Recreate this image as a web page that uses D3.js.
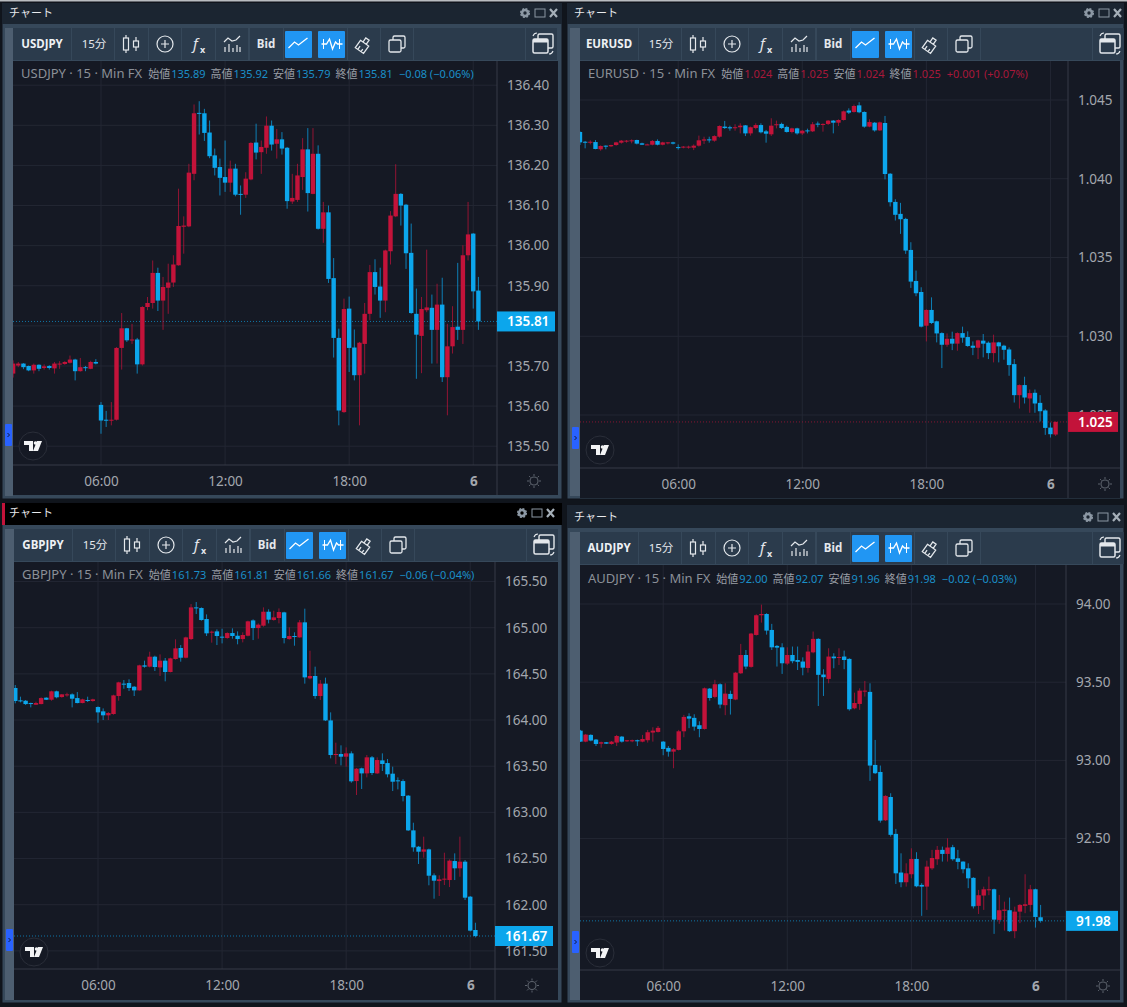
<!DOCTYPE html>
<html>
<head>
<meta charset="utf-8">
<style>
html, body { margin: 0; padding: 0; background: #10151c; overflow: hidden; }
svg { display: block; }
text { font-family: "Noto Sans", "Noto Sans CJK JP", sans-serif; }
</style>
<script src="https://cdn.jsdelivr.net/npm/d3@7"></script>
</head>
<body>
<svg id="chart" width="1127" height="1007"></svg>
<script>
// candle rows are open, high, low, close. the first row is index candleStart, 06:00 is index 0
var timeTicks = [0, 24, 48, 72];
var timeLabels = ['06:00', '12:00', '18:00', '6'];

var usdjpyTicks = [136.4, 136.3, 136.2, 136.1, 136.0, 135.9, 135.8, 135.7, 135.6, 135.5];
var eurusdTicks = [1.045, 1.04, 1.035, 1.03, 1.025];
var gbpjpyTicks = [165.5, 165, 164.5, 164, 163.5, 163, 162.5, 162, 161.5];
var audjpyTicks = [94, 93.5, 93, 92.5, 92];

var usdjpyLegend = ['135.89', '135.92', '135.79', '135.81', '−0.08 (−0.06%)'];
var eurusdLegend = ['1.024', '1.025', '1.024', '1.025', '+0.001 (+0.07%)'];
var gbpjpyLegend = ['161.73', '161.81', '161.66', '161.67', '−0.06 (−0.04%)'];
var audjpyLegend = ['92.00', '92.07', '91.96', '91.98', '−0.02 (−0.03%)'];

var usdjpy = [
  [135.681,135.714,135.671,135.706],[135.701,135.710,135.697,135.706],[135.706,135.707,135.692,135.697],
  [135.700,135.701,135.687,135.689],[135.689,135.706,135.681,135.703],[135.703,135.704,135.687,135.693],
  [135.695,135.704,135.691,135.699],[135.700,135.702,135.691,135.695],[135.694,135.710,135.681,135.706],
  [135.704,135.712,135.693,135.706],[135.705,135.712,135.703,135.710],[135.708,135.726,135.706,135.716],
  [135.716,135.718,135.664,135.687],[135.687,135.720,135.686,135.697],[135.697,135.700,135.687,135.695],
  [135.693,135.713,135.692,135.710],[135.710,135.717,135.704,135.706],
  [135.603,135.610,135.531,135.564],[135.566,135.588,135.548,135.564],[135.564,135.610,135.552,135.566],
  [135.566,135.747,135.564,135.745],[135.745,135.832,135.691,135.794],[135.794,135.795,135.760,135.764],
  [135.764,135.805,135.755,135.766],[135.766,135.770,135.681,135.704],[135.704,135.849,135.701,135.847],
  [135.847,135.872,135.839,135.857],[135.857,135.963,135.843,135.932],[135.932,135.945,135.837,135.863],
  [135.863,135.922,135.790,135.897],[135.895,135.955,135.830,135.908],[135.908,135.976,135.897,135.953],
  [135.951,136.142,135.950,136.049],[136.047,136.073,135.980,136.050],[136.048,136.204,136.046,136.182],
  [136.179,136.352,136.163,136.330],[136.331,136.360,136.277,136.329],[136.330,136.341,136.261,136.281],
  [136.282,136.312,136.218,136.223],[136.225,136.242,136.175,136.194],[136.196,136.217,136.125,136.169],
  [136.171,136.262,136.134,136.157],[136.157,136.212,136.134,136.192],[136.192,136.204,136.123,136.127],
  [136.129,136.150,136.077,136.127],[136.127,136.183,136.119,136.167],[136.165,136.258,136.163,136.256],
  [136.257,136.304,136.215,136.232],[136.233,136.262,136.179,136.246],[136.244,136.322,136.229,136.299],
  [136.299,136.312,136.237,136.252],[136.254,136.291,136.217,136.265],[136.265,136.283,136.227,136.242],
  [136.244,136.246,136.092,136.111],[136.110,136.179,136.104,136.119],[136.114,136.204,136.109,136.175],
  [136.171,136.268,136.139,136.240],[136.240,136.293,136.085,136.131],[136.129,136.293,136.128,136.229],
  [136.229,136.250,136.040,136.042],[136.042,136.109,136.007,136.083],[136.083,136.100,135.907,135.917],
  [135.919,135.969,135.721,135.770],[135.770,135.793,135.552,135.589],[135.585,135.868,135.583,135.842],
  [135.843,135.873,135.685,135.745],[135.746,135.791,135.664,135.677],[135.677,135.760,135.552,135.758],
  [135.755,135.857,135.681,135.830],[135.830,135.952,135.814,135.934],[135.934,135.966,135.878,135.897],
  [135.898,135.945,135.820,135.863],[135.863,135.990,135.834,135.988],[135.986,136.086,135.953,136.075],
  [136.073,136.203,136.071,136.129],[136.129,136.131,136.050,136.100],[136.102,136.104,135.942,135.981],
  [135.982,136.055,135.830,135.832],[135.830,135.893,135.668,135.778],[135.775,135.872,135.682,135.842],
  [135.839,135.990,135.834,135.846],[135.845,135.878,135.706,135.790],[135.790,135.905,135.706,135.853],
  [135.853,135.920,135.660,135.672],[135.672,135.805,135.577,135.749],[135.749,135.849,135.731,135.797],
  [135.798,135.957,135.765,135.790],[135.790,136.001,135.755,135.976],[135.976,136.109,135.963,136.028],
  [136.030,136.031,135.843,135.886],[135.888,135.922,135.790,135.811]
];

var eurusd = [
  [1.04297,1.04301,1.04214,1.04231],[1.04235,1.04240,1.04193,1.04231],[1.04229,1.04244,1.04218,1.04235],
  [1.04233,1.04246,1.04187,1.04189],[1.04187,1.04212,1.04178,1.04208],[1.04210,1.04212,1.04187,1.04204],
  [1.04206,1.04216,1.04201,1.04214],[1.04214,1.04235,1.04210,1.04231],[1.04229,1.04246,1.04223,1.04242],
  [1.04238,1.04246,1.04229,1.04242],[1.04240,1.04250,1.04225,1.04244],[1.04246,1.04248,1.04218,1.04223],
  [1.04225,1.04229,1.04214,1.04216],[1.04216,1.04223,1.04214,1.04218],[1.04216,1.04246,1.04212,1.04240],
  [1.04240,1.04250,1.04212,1.04216],[1.04216,1.04235,1.04212,1.04231],[1.04227,1.04233,1.04218,1.04231],
  [1.04231,1.04235,1.04218,1.04223],
  [1.04201,1.04218,1.04185,1.04197],[1.04199,1.04208,1.04193,1.04204],[1.04199,1.04210,1.04191,1.04204],
  [1.04197,1.04218,1.04182,1.04210],[1.04210,1.04274,1.04204,1.04244],[1.04242,1.04267,1.04221,1.04250],
  [1.04250,1.04267,1.04229,1.04246],[1.04242,1.04276,1.04235,1.04271],[1.04267,1.04339,1.04261,1.04335],
  [1.04331,1.04367,1.04316,1.04322],[1.04327,1.04337,1.04305,1.04320],[1.04322,1.04346,1.04305,1.04327],
  [1.04327,1.04352,1.04288,1.04337],[1.04339,1.04341,1.04271,1.04288],[1.04288,1.04331,1.04274,1.04327],
  [1.04322,1.04352,1.04314,1.04341],[1.04341,1.04352,1.04288,1.04295],[1.04301,1.04310,1.04229,1.04286],
  [1.04282,1.04384,1.04271,1.04337],[1.04341,1.04369,1.04320,1.04346],[1.04348,1.04356,1.04316,1.04322],
  [1.04329,1.04337,1.04293,1.04297],[1.04297,1.04324,1.04288,1.04320],[1.04320,1.04324,1.04280,1.04288],
  [1.04288,1.04310,1.04278,1.04305],[1.04307,1.04318,1.04288,1.04303],[1.04301,1.04360,1.04297,1.04346],
  [1.04350,1.04363,1.04327,1.04344],[1.04344,1.04352,1.04299,1.04348],[1.04348,1.04373,1.04341,1.04369],
  [1.04369,1.04373,1.04288,1.04356],[1.04356,1.04377,1.04335,1.04373],[1.04373,1.04433,1.04369,1.04428],
  [1.04433,1.04447,1.04411,1.04420],[1.04424,1.04471,1.04420,1.04462],[1.04466,1.04486,1.04416,1.04422],
  [1.04424,1.04428,1.04324,1.04331],[1.04331,1.04377,1.04327,1.04360],[1.04356,1.04360,1.04299,1.04307],
  [1.04307,1.04363,1.04303,1.04358],[1.04354,1.04399,1.03996,1.04030],[1.04032,1.04036,1.03824,1.03851],
  [1.03853,1.03870,1.03735,1.03771],[1.03777,1.03847,1.03650,1.03743],[1.03745,1.03752,1.03523,1.03544],
  [1.03548,1.03597,1.03307,1.03347],[1.03351,1.03417,1.03254,1.03273],[1.03281,1.03311,1.03056,1.03061],
  [1.03067,1.03171,1.02967,1.03167],[1.03167,1.03247,1.03078,1.03084],[1.03095,1.03099,1.02961,1.03018],
  [1.03020,1.03025,1.02798,1.02946],[1.02946,1.03018,1.02933,1.02984],[1.02984,1.03029,1.02912,1.02953],
  [1.02953,1.03025,1.02908,1.03020],[1.03020,1.03061,1.02959,1.02991],[1.02995,1.03031,1.02933,1.02938],
  [1.02940,1.02967,1.02880,1.02927],[1.02927,1.02978,1.02855,1.02974],[1.02972,1.03014,1.02866,1.02953],
  [1.02959,1.02967,1.02855,1.02893],[1.02893,1.03010,1.02834,1.02961],[1.02961,1.02965,1.02834,1.02936],
  [1.02940,1.02946,1.02851,1.02914],[1.02916,1.02929,1.02749,1.02817],[1.02823,1.02855,1.02579,1.02626],
  [1.02626,1.02694,1.02541,1.02690],[1.02690,1.02743,1.02573,1.02611],[1.02605,1.02662,1.02514,1.02639],
  [1.02641,1.02662,1.02514,1.02573],[1.02577,1.02626,1.02459,1.02524],[1.02529,1.02537,1.02374,1.02418],
  [1.02420,1.02452,1.02357,1.02378],[1.02376,1.02459,1.02367,1.02456]
];

var gbpjpy = [
  [164.347,164.379,164.181,164.206],[164.213,164.253,164.191,164.202],[164.209,164.217,164.163,164.173],
  [164.184,164.188,164.137,164.173],[164.166,164.199,164.163,164.184],[164.173,164.246,164.170,164.238],
  [164.242,164.246,164.217,164.220],[164.220,164.318,164.209,164.311],[164.311,164.318,164.235,164.246],
  [164.249,164.282,164.242,164.278],[164.267,164.296,164.253,164.278],[164.278,164.289,164.137,164.231],
  [164.238,164.303,164.181,164.184],[164.184,164.231,164.181,164.224],[164.217,164.253,164.195,164.206],
  [164.206,164.231,164.199,164.224],
  [164.141,164.148,163.971,164.083],[164.094,164.126,164.000,164.051],[164.051,164.087,164.000,164.076],
  [164.065,164.274,164.058,164.267],[164.260,164.415,164.209,164.408],[164.394,164.433,164.339,164.383],
  [164.401,164.441,164.314,164.347],[164.361,164.368,164.260,164.321],[164.321,164.599,164.318,164.592],
  [164.592,164.643,164.567,164.578],[164.578,164.740,164.570,164.686],[164.686,164.697,164.531,164.574],
  [164.570,164.711,164.477,164.643],[164.643,164.672,164.419,164.520],[164.520,164.675,164.516,164.668],
  [164.661,164.874,164.654,164.776],[164.780,164.812,164.632,164.675],[164.675,164.903,164.668,164.895],
  [164.877,165.256,164.866,165.220],[165.220,165.278,165.148,165.213],[165.213,165.220,165.076,165.083],
  [165.094,165.144,164.910,164.939],[164.950,164.968,164.838,164.957],[164.960,164.982,164.812,164.910],
  [164.903,164.989,164.830,164.892],[164.888,164.950,164.881,164.942],[164.942,164.993,164.881,164.910],
  [164.913,164.960,164.820,164.877],[164.877,164.950,164.841,164.921],[164.913,165.076,164.906,165.069],
  [165.079,165.090,164.866,164.996],[164.996,165.047,164.881,165.033],[165.022,165.220,165.011,165.173],
  [165.173,165.199,165.047,165.087],[165.083,165.184,165.076,165.112],[165.105,165.209,165.047,165.170],
  [165.166,165.173,164.830,164.888],[164.877,165.004,164.870,164.910],[164.910,164.950,164.805,164.899],
  [164.895,165.083,164.892,165.058],[165.058,165.206,164.394,164.462],[164.451,164.751,164.441,164.477],
  [164.477,164.578,164.231,164.260],[164.260,164.433,164.217,164.394],[164.394,164.459,163.989,163.996],
  [163.996,164.083,163.585,163.621],[163.621,163.755,163.524,163.632],[163.632,163.726,163.509,163.603],
  [163.603,163.704,163.495,163.639],[163.639,163.661,163.321,163.336],[163.339,163.480,163.188,163.473],
  [163.477,163.484,163.253,163.422],[163.422,163.621,163.379,163.596],[163.596,163.610,163.404,163.426],
  [163.422,163.596,163.415,163.567],[163.563,163.639,163.448,163.524],[163.534,163.578,163.379,163.412],
  [163.419,163.495,163.231,163.332],[163.347,163.379,163.249,163.336],[163.339,163.358,163.119,163.177],
  [163.181,163.188,162.798,162.805],[162.805,162.888,162.574,162.621],[162.628,162.636,162.441,162.574],
  [162.574,162.737,162.509,162.599],[162.599,162.607,162.210,162.314],[162.318,162.339,162.065,162.260],
  [162.256,162.318,162.094,162.275],[162.271,162.563,162.213,162.282],[162.267,162.491,162.191,162.477],
  [162.473,162.556,162.267,162.394],[162.394,162.737,162.303,162.466],[162.466,162.484,162.051,162.076],
  [162.087,162.094,161.711,161.719],[161.726,161.805,161.646,161.661]
];

var audjpy = [
  [93.190,93.195,93.118,93.120],[93.120,93.169,93.116,93.165],[93.163,93.167,93.122,93.127],
  [93.133,93.137,93.092,93.105],[93.107,93.120,93.081,93.116],[93.116,93.118,93.105,93.107],
  [93.105,93.124,93.101,93.120],[93.114,93.163,93.092,93.156],[93.152,93.156,93.114,93.120],
  [93.122,93.131,93.118,93.129],[93.122,93.133,93.116,93.129],[93.129,93.133,93.092,93.122],
  [93.120,93.163,93.116,93.137],[93.129,93.195,93.114,93.180],[93.178,93.212,93.120,93.190],
  [93.182,93.220,93.178,93.208],
  [93.120,93.124,93.033,93.073],[93.080,93.092,93.024,93.056],[93.056,93.078,92.950,93.071],
  [93.067,93.195,93.063,93.186],[93.186,93.291,93.148,93.278],[93.282,93.301,93.206,93.267],
  [93.272,93.295,93.190,93.216],[93.225,93.250,93.148,93.201],[93.201,93.466,93.197,93.461],
  [93.459,93.463,93.382,93.399],[93.406,93.515,93.397,93.487],[93.487,93.493,93.333,93.357],
  [93.353,93.493,93.289,93.427],[93.425,93.446,93.293,93.393],[93.389,93.566,93.385,93.561],
  [93.557,93.745,93.553,93.674],[93.674,93.706,93.583,93.600],[93.598,93.815,93.593,93.811],
  [93.802,93.934,93.798,93.928],[93.928,93.996,93.881,93.936],[93.936,93.941,93.804,93.830],
  [93.834,93.873,93.706,93.723],[93.732,93.738,93.600,93.721],[93.723,93.749,93.553,93.621],
  [93.619,93.723,93.610,93.674],[93.674,93.728,93.621,93.634],[93.642,93.728,93.578,93.630],
  [93.632,93.659,93.544,93.593],[93.591,93.738,93.561,93.696],[93.691,93.824,93.685,93.777],
  [93.777,93.781,93.348,93.547],[93.549,93.583,93.412,93.532],[93.521,93.717,93.493,93.664],
  [93.664,93.685,93.589,93.653],[93.655,93.717,93.610,93.661],[93.664,93.702,93.583,93.642],
  [93.649,93.653,93.318,93.327],[93.333,93.433,93.327,93.367],[93.361,93.461,93.323,93.446],
  [93.440,93.508,93.408,93.446],[93.438,93.493,92.869,92.967],[92.971,93.131,92.913,92.918],
  [92.926,92.967,92.602,92.615],[92.617,92.777,92.613,92.773],[92.766,92.790,92.513,92.524],
  [92.530,92.562,92.210,92.278],[92.283,92.406,92.189,92.221],[92.221,92.342,92.193,92.278],
  [92.272,92.438,92.246,92.370],[92.370,92.413,92.189,92.195],[92.204,92.215,92.006,92.193],
  [92.193,92.359,92.044,92.321],[92.310,92.428,92.300,92.376],[92.368,92.453,92.332,92.428],
  [92.428,92.449,92.353,92.402],[92.402,92.502,92.353,92.443],[92.445,92.460,92.359,92.368],
  [92.374,92.428,92.304,92.351],[92.353,92.355,92.278,92.304],[92.310,92.342,92.183,92.246],
  [92.249,92.253,92.053,92.067],[92.070,92.172,92.018,92.138],[92.136,92.193,92.044,92.176],
  [92.172,92.257,92.138,92.176],[92.176,92.180,91.891,91.982],[91.980,92.140,91.955,92.042],
  [92.038,92.097,91.912,92.046],[92.042,92.123,91.903,91.908],[91.908,92.065,91.863,92.033],
  [92.033,92.082,91.959,92.076],[92.070,92.272,92.023,92.080],[92.076,92.204,92.033,92.176],
  [92.176,92.180,91.931,91.999],[91.997,92.076,91.963,91.974]
];

var UP = '#c3133a', DOWN = '#0ca6ec';
var svg = d3.select('#chart');
svg.append('rect').attr('width', 1127).attr('height', 1.5).attr('fill', '#b9bcc0');

// window frames, plot rects and price anchors, one per panel
var panels = [
  { symbol: 'USDJPY', legend: usdjpyLegend, candles: usdjpy, candleStart: -17, ticks: usdjpyTicks, fmt: '.2f',
    win: [2, 3, 560, 496], plot: [13, 61, 497, 465], axisBottom: 495, zero: 101, p: [136.3, 135.5], py: [125.3, 446.2], title: 13,
    legendY: 77.5, icons: 525, handle: 424, logo: [33, 446] },
  { symbol: 'EURUSD', legend: eurusdLegend, candles: eurusd, candleStart: -19, ticks: eurusdTicks, fmt: '.3f',
    win: [567, 3, 557, 496], plot: [580, 61, 1068, 468], axisBottom: 498, zero: 678.2, p: [1.045, 1.025], py: [100, 415], title: 13,
    legendY: 77.5, icons: 1089, handle: 427, logo: [600, 450], red: true },
  { symbol: 'GBPJPY', legend: gbpjpyLegend, candles: gbpjpy, candleStart: -16, ticks: gbpjpyTicks, fmt: '.2f',
    win: [2, 503, 560, 500], plot: [14, 562, 495, 969], axisBottom: 1000, zero: 98, p: [165, 162], py: [627.7, 904.7], title: 513,
    legendY: 578.5, icons: 522, handle: 929, logo: [34, 952], active: true },
  { symbol: 'AUDJPY', legend: audjpyLegend, candles: audjpy, candleStart: -16, ticks: audjpyTicks, fmt: '.2f',
    win: [567, 505, 557, 498], plot: [580, 565, 1066, 970], axisBottom: 1000, zero: 663.2, p: [94, 92], py: [604, 916.8], title: 517,
    legendY: 583, icons: 1088, handle: 931, logo: [600, 953] }
];

var toolButtons = [[0, 58], [59, 101], [102, 135], [136, 168], [169, 202], [203, 235], [237, 270], [271, 304], [304, 334], [335, 367], [368, 400], [401, 512], [513, 544]];

function stroke(g, d, w, col) {
  return g.append('path').attr('d', d).attr('fill', 'none').attr('stroke', col || '#e4e8ec').attr('stroke-width', w || 1.2);
}

function drawToolbar(g, p) {
  var left = p.plot[0], top = p.plot[1] - 33, h = 32;
  toolButtons.forEach(function (b) {
    g.append('rect').attr('x', left + b[0]).attr('y', top).attr('width', b[1] - b[0]).attr('height', h).attr('fill', '#2b3b4c');
  });
  var mid = top + h / 2;
  g.append('text').attr('x', left + 29).attr('y', mid + 4).attr('text-anchor', 'middle').attr('font-size', 11.5).attr('font-weight', 700).attr('fill', '#eef1f4').text(p.symbol);
  g.append('text').attr('x', left + 81).attr('y', mid + 4).attr('text-anchor', 'middle').attr('font-size', 11.5).attr('fill', '#e4e8ec').text('15分');
  g.append('text').attr('x', left + 253).attr('y', mid + 4).attr('text-anchor', 'middle').attr('font-size', 11.5).attr('font-weight', 700).attr('fill', '#e4e8ec').text('Bid');

  // candle icon
  var cx = left + 118;
  stroke(g, 'M' + (cx - 5) + ' ' + (mid - 9) + 'v18M' + (cx + 5) + ' ' + (mid - 7) + 'v14');
  g.append('rect').attr('x', cx - 7.5).attr('y', mid - 6).attr('width', 5).attr('height', 12).attr('fill', '#2b3b4c').attr('stroke', '#e4e8ec').attr('stroke-width', 1.2);
  g.append('rect').attr('x', cx + 2.5).attr('y', mid - 3).attr('width', 5).attr('height', 6).attr('fill', '#2b3b4c').attr('stroke', '#e4e8ec').attr('stroke-width', 1.2);

  // plus in a circle
  var px = left + 152;
  g.append('circle').attr('cx', px).attr('cy', mid).attr('r', 8).attr('fill', 'none').attr('stroke', '#e4e8ec').attr('stroke-width', 1.2);
  stroke(g, 'M' + (px - 4) + ' ' + mid + 'h8M' + px + ' ' + (mid - 4) + 'v8');

  // fx
  g.append('text').attr('x', left + 180).attr('y', mid + 5).attr('font-size', 15).attr('font-style', 'italic').attr('fill', '#e4e8ec').attr('font-family', 'Liberation Serif').text('f');
  g.append('text').attr('x', left + 187).attr('y', mid + 9).attr('font-size', 9).attr('font-weight', 700).attr('fill', '#e4e8ec').text('x');

  // indicators icon
  var ix = left + 219;
  stroke(g, 'M' + (ix - 8) + ' ' + (mid - 2) + 'l4 -4l4 3l4 -1l4 -4');
  stroke(g, 'M' + (ix - 7) + ' ' + (mid + 8) + 'v-5M' + (ix - 3) + ' ' + (mid + 8) + 'v-8M' + (ix + 1) + ' ' + (mid + 8) + 'v-4M' + (ix + 5) + ' ' + (mid + 8) + 'v-7M' + (ix + 8) + ' ' + (mid + 8) + 'v-5');

  // two active blue buttons
  [272, 305].forEach(function (off, n) {
    g.append('rect').attr('x', left + off).attr('y', top + 3).attr('width', 27).attr('height', h - 5).attr('rx', 1).attr('fill', '#2196f3');
    var bx = left + off + 13.5, d = n === 0
      ? 'M' + (bx - 10) + ' ' + (mid + 4) + 'l6 -6l4 3l9 -7'
      : 'M' + (bx - 10) + ' ' + mid + 'h5l3 -5l3 10l3 -7l2 2h5';
    stroke(g, d, 1.3, '#ffffff');
    if (n === 1) stroke(g, 'M' + (bx - 8) + ' ' + (mid - 5) + 'v10M' + (bx + 8) + ' ' + (mid - 5) + 'v10', 1, '#ffffff');
  });

  // brush
  var br = left + 351;
  g.append('g').attr('transform', 'translate(' + br + ',' + mid + ') rotate(35)').call(function (s) {
    stroke(s, 'M-5 -1h10v9h-10zM-2 -1v-5h4v5M-2 8v-4M2 8v-3', 1.3);
  });

  // copy icon
  var co = left + 384;
  g.append('rect').attr('x', co - 4).attr('y', mid - 8).attr('width', 12).attr('height', 12).attr('rx', 1.5).attr('fill', 'none').attr('stroke', '#e4e8ec').attr('stroke-width', 1.3);
  g.append('rect').attr('x', co - 8).attr('y', mid - 4).attr('width', 12).attr('height', 12).attr('rx', 1.5).attr('fill', '#2b3b4c').attr('stroke', '#e4e8ec').attr('stroke-width', 1.3);

  // layout icon on the right
  var la = left + 530;
  g.append('rect').attr('x', la - 5).attr('y', mid - 10).attr('width', 15).attr('height', 14).attr('rx', 1.5).attr('fill', 'none').attr('stroke', '#e4e8ec').attr('stroke-width', 1.4);
  g.append('rect').attr('x', la - 10).attr('y', mid - 5).attr('width', 15).attr('height', 14).attr('rx', 1.5).attr('fill', '#2b3b4c').attr('stroke', '#e4e8ec').attr('stroke-width', 1.5);
  g.append('rect').attr('x', la - 10).attr('y', mid - 5).attr('width', 15).attr('height', 3.5).attr('fill', '#e4e8ec');
  stroke(g, 'M' + (la - 10) + ' ' + (mid - 8) + 'q1 -3 4 -3M' + (la + 10) + ' ' + (mid + 7) + 'q-1 3 -4 3', 1.1);
}

function drawPanel(p, idx) {
  var g = svg.append('g');
  var left = p.plot[0], top = p.plot[1], right = p.plot[2], bottom = p.plot[3];
  var winRight = p.win[0] + p.win[2], winBottom = p.win[1] + p.win[3];

  g.append('rect').attr('x', p.win[0]).attr('y', p.win[1]).attr('width', p.win[2]).attr('height', p.win[3]).attr('fill', '#36485a').attr('stroke', '#10151c').attr('stroke-width', 1);
  g.append('rect').attr('x', p.win[0]).attr('y', p.win[1]).attr('width', p.win[2]).attr('height', p.plot[1] - p.win[1] - 38 + 1).attr('fill', p.active ? '#000000' : '#1b2531');
  if (p.active) g.append('rect').attr('x', p.win[0]).attr('y', p.win[1]).attr('width', 3).attr('height', 22).attr('fill', '#c3133a');
  g.append('rect').attr('x', p.win[0] + 3).attr('y', top - 33).attr('width', left - p.win[0] - 3).attr('height', winBottom - top + 30).attr('fill', '#4d5e70');

  g.append('text').attr('x', p.win[0] + 7).attr('y', p.title + 4).attr('font-size', 11).attr('fill', '#e8ebee').text('チャート');
  // window icons
  var ic = p.icons, ty = p.title;
  g.append('circle').attr('cx', ic).attr('cy', ty).attr('r', 3).attr('fill', 'none').attr('stroke', '#8c98a4').attr('stroke-width', 2.6);
  g.append('circle').attr('cx', ic).attr('cy', ty).attr('r', 4.4).attr('fill', 'none').attr('stroke', '#8c98a4').attr('stroke-width', 1.3).attr('stroke-dasharray', '2 1.45');
  g.append('rect').attr('x', ic + 10).attr('y', ty - 4).attr('width', 10).attr('height', 8).attr('fill', 'none').attr('stroke', '#8c98a4').attr('stroke-width', 1);
  stroke(g, 'M' + (ic + 25) + ' ' + (ty - 4) + 'l7 8M' + (ic + 32) + ' ' + (ty - 4) + 'l-7 8', 2.2, '#a5afb8');

  drawToolbar(g, p);

  // pane backgrounds
  g.append('rect').attr('x', left).attr('y', top).attr('width', winRight - 4 - left).attr('height', p.axisBottom - top).attr('fill', '#151924');

  var xStep = 5.17;
  var x = d3.scaleLinear().domain([0, 24]).range([p.zero, p.zero + 24 * xStep]);
  var y = d3.scaleLinear().domain(p.p).range(p.py);

  var grid = g.append('g').attr('stroke', '#232733').attr('stroke-width', 1);
  grid.selectAll('line.h').data(p.ticks).enter().append('line').attr('class', 'h')
    .attr('x1', left).attr('x2', right).attr('y1', function (d) { return y(d); }).attr('y2', function (d) { return y(d); });
  grid.selectAll('line.v').data(timeTicks).enter().append('line').attr('class', 'v')
    .attr('x1', function (d) { return x(d); }).attr('x2', function (d) { return x(d); }).attr('y1', top).attr('y2', bottom);

  // axis borders
  g.append('line').attr('x1', right).attr('x2', right).attr('y1', top).attr('y2', p.axisBottom).attr('stroke', '#363b47');
  g.append('line').attr('x1', left).attr('x2', winRight - 4).attr('y1', bottom).attr('y2', bottom).attr('stroke', '#363b47');

  var clipId = 'clip' + idx;
  svg.append('clipPath').attr('id', clipId).append('rect').attr('x', left).attr('y', top).attr('width', right - left).attr('height', bottom - top);
  var marks = g.append('g').attr('clip-path', 'url(#' + clipId + ')');

  var last = p.candles[p.candles.length - 1];
  var lastCol = p.red ? UP : DOWN;
  marks.append('line').attr('x1', left).attr('x2', right).attr('y1', y(last[3])).attr('y2', y(last[3]))
    .attr('stroke', lastCol).attr('stroke-width', 1).attr('stroke-dasharray', '1 2').attr('opacity', 0.65);

  var candle = marks.selectAll('g.candle').data(p.candles).enter().append('g').attr('class', 'candle');
  function cx(d, i) { return x(i + p.candleStart); }
  function col(d) { return d[3] >= d[0] ? UP : DOWN; }
  candle.append('line')
    .attr('x1', cx).attr('x2', cx)
    .attr('y1', function (d) { return y(d[1]); }).attr('y2', function (d) { return y(d[2]); })
    .attr('stroke', col).attr('stroke-width', 1).attr('opacity', 0.72);
  candle.append('rect')
    .attr('x', function (d, i) { return cx(d, i) - 2.2; }).attr('width', 4.4)
    .attr('y', function (d) { return y(Math.max(d[0], d[3])); })
    .attr('height', function (d) { return Math.max(1, Math.abs(y(d[0]) - y(d[3]))); })
    .attr('fill', col);

  // price axis, labels fully under the last price tag are not shown
  var yAxis = d3.axisRight(y).tickValues(p.ticks).tickSize(0).tickPadding(10).tickFormat(d3.format(p.fmt));
  var yg = g.append('g').attr('transform', 'translate(' + right + ',0)').call(yAxis);
  yg.select('.domain').remove();
  yg.selectAll('.tick').filter(function (d) { return Math.abs(y(d) - y(last[3])) < 6.5; }).remove();
  yg.selectAll('text').attr('font-size', 13.5).attr('fill', '#a3a7ae').attr('font-family', '"Noto Sans", sans-serif');

  // time axis
  var xAxis = d3.axisBottom(x).tickValues(timeTicks).tickSize(0).tickPadding(11).tickFormat(function (d) { return timeLabels[timeTicks.indexOf(d)]; });
  var xg = g.append('g').attr('transform', 'translate(0,' + bottom + ')').call(xAxis);
  xg.select('.domain').remove();
  xg.selectAll('text').attr('font-size', 13.5).attr('fill', '#a3a7ae').attr('font-family', '"Noto Sans", sans-serif')
    .attr('font-weight', function (d) { return d === 72 ? 700 : 400; });

  // last price tag
  var tagW = winRight - 6 - right;
  g.append('rect').attr('x', right).attr('y', y(last[3]) - 10).attr('width', Math.min(tagW, 52 + (p.fmt === '.2f' ? 6 : 0))).attr('height', 20).attr('fill', lastCol);
  g.append('text').attr('x', right + 10).attr('y', y(last[3]) + 5).attr('font-size', 13.5).attr('font-weight', 600).attr('fill', '#ffffff').text(p.legend[3]);

  // legend line
  var legendLabels = ['始値', '高値', '安値', '終値'];
  var legendCol = p.red ? '#a8183a' : '#1b8fc8';
  var lt = g.append('text').attr('x', left + 8).attr('y', p.legendY).attr('font-size', 11).attr('fill', '#8b9098');
  lt.append('tspan').attr('font-size', 13).text(p.symbol + ' · 15 · Min FX');
  legendLabels.forEach(function (l, i) {
    lt.append('tspan').attr('dx', i === 0 ? 6 : 5).attr('fill', '#9a9ea6').text(l);
    lt.append('tspan').attr('dx', 1).attr('fill', legendCol).text(p.legend[i]);
  });
  lt.append('tspan').attr('dx', 6).attr('fill', legendCol).text(p.legend[4]);

  // collapse handle
  g.append('rect').attr('x', left - 8).attr('y', p.handle).attr('width', 7).attr('height', 22).attr('rx', 1).attr('fill', '#2962ff');
  stroke(g, 'M' + (left - 5.5) + ' ' + (p.handle + 9) + 'l2 2l-2 2', 1, '#0e1a3c');

  // tv logo
  var lx = p.logo[0], ly = p.logo[1];
  g.append('circle').attr('cx', lx).attr('cy', ly).attr('r', 14).attr('fill', '#151924').attr('stroke', '#2a2e39');
  g.append('path').attr('fill', '#f2f3f5')
    .attr('d', 'M' + (lx - 9) + ' ' + (ly - 5) + 'h9v10h-4v-6h-5zM' + (lx + 4) + ' ' + (ly - 5) + 'h5l-4 10h-5z');
  g.append('circle').attr('cx', lx + 2.5).attr('cy', ly - 3).attr('r', 1.8).attr('fill', '#f2f3f5');

  // settings sun
  var sx = right + 37, sy = (bottom + p.axisBottom) / 2 + 1;
  g.append('circle').attr('cx', sx).attr('cy', sy).attr('r', 4).attr('fill', 'none').attr('stroke', '#5c626c').attr('stroke-width', 1.1);
  d3.range(8).forEach(function (k) {
    var a = k * Math.PI / 4;
    g.append('line').attr('x1', sx + 5 * Math.cos(a)).attr('y1', sy + 5 * Math.sin(a)).attr('x2', sx + 7 * Math.cos(a)).attr('y2', sy + 7 * Math.sin(a)).attr('stroke', '#5c626c');
  });
}

panels.forEach(drawPanel);
</script>
</body>
</html>
